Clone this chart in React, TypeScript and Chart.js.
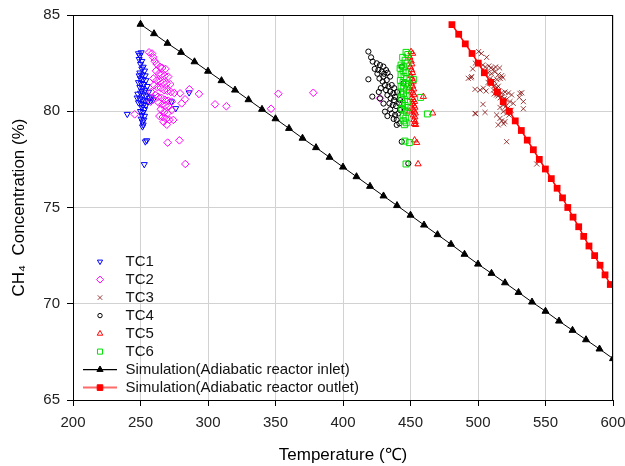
import React, { useEffect, useRef } from 'react';
import { Chart, registerables } from 'chart.js';

Chart.register(...registerables);

const FONT = '"Liberation Sans", Arial, Helvetica, sans-serif';

const xTickValues = [200, 250, 300, 350, 400, 450, 500, 550, 600];
const yTickValues = [65, 70, 75, 80, 85];

const xTitle = 'Temperature (℃)';
const yTitle = 'CH₄  Concentration (%)';

const seriesLabels = [
  'TC1',
  'TC2',
  'TC3',
  'TC4',
  'TC5',
  'TC6',
  'Simulation(Adiabatic reactor inlet)',
  'Simulation(Adiabatic reactor outlet)',
];

const inletTemps = [250, 260, 270, 280, 290, 300, 310, 320, 330, 340, 350, 360, 370, 380, 390, 400, 410, 420, 430, 440, 450, 460, 470, 480, 490, 500, 510, 520, 530, 540, 550, 560, 570, 580, 590, 600];
const inletConc = [84.52, 84.03, 83.53, 83.06, 82.57, 82.08, 81.59, 81.1, 80.6, 80.1, 79.61, 79.11, 78.6, 78.11, 77.61, 77.1, 76.6, 76.1, 75.6, 75.1, 74.6, 74.09, 73.59, 73.09, 72.57, 72.06, 71.58, 71.09, 70.59, 70.09, 69.61, 69.1, 68.62, 68.13, 67.65, 67.15];

const outletTemps = [480.7, 485.7, 490.6, 495.6, 500.2, 504.7, 509.4, 514.3, 518.7, 523.2, 527.6, 532.1, 536.5, 541.0, 545.4, 549.9, 554.3, 558.6, 562.6, 566.5, 570.4, 574.6, 578.3, 582.2, 586.4, 590.4, 594.1, 598.0];
const outletConc = [84.5, 84.0, 83.5, 83.0, 82.5, 82.0, 81.5, 81.0, 80.5, 80.0, 79.5, 79.0, 78.5, 78.0, 77.5, 77.0, 76.5, 76.0, 75.5, 75.0, 74.5, 74.0, 73.5, 73.0, 72.5, 72.0, 71.5, 71.0];

const tc1 = [
  [248.5, 83.0], [249.5, 82.9], [250.5, 83.05], [249.0, 82.7], [251.0, 82.6], [250.0, 82.45], [252.0, 82.3], [251.0, 82.2],
  [253.0, 82.1], [249.5, 82.0], [251.5, 81.9], [253.5, 81.85], [250.0, 81.7], [252.0, 81.65], [254.0, 81.6], [248.5, 81.5],
  [250.5, 81.45], [252.5, 81.4], [255.0, 81.3], [249.5, 81.25], [251.5, 81.2], [253.5, 81.1], [256.0, 81.0], [248.0, 80.9],
  [250.0, 80.95], [252.0, 80.85], [254.0, 80.8], [256.5, 80.7], [258.0, 80.75], [247.5, 80.7], [249.5, 80.65], [251.5, 80.6],
  [253.5, 80.55], [255.5, 80.5], [257.5, 80.55], [259.5, 80.6], [250.5, 80.4], [252.5, 80.35], [254.0, 80.3], [251.0, 80.2],
  [253.0, 80.1], [250.0, 80.0], [252.0, 79.95], [251.0, 79.8], [253.0, 79.75], [250.5, 79.6], [252.5, 79.55], [251.5, 79.45],
  [252.0, 79.3], [251.5, 79.2], [240.2, 79.85], [253.6, 78.42], [254.6, 78.48], [252.8, 77.24], [276.1, 80.15], [286.0, 80.97],
  [273.0, 80.5], [249.0, 81.85], [251.0, 81.05], [248.5, 80.45],
];

const tc2 = [
  [256.3, 83.06], [258.5, 83.0], [259.5, 82.8], [260.5, 82.6], [262.0, 82.45], [264.5, 82.3], [266.0, 82.25], [268.5, 82.2],
  [261.5, 82.1], [263.5, 81.95], [265.5, 81.9], [268.0, 81.85], [270.5, 81.8], [259.5, 81.7], [262.0, 81.6], [264.5, 81.55],
  [267.0, 81.5], [269.5, 81.45], [272.0, 81.4], [260.0, 81.35], [262.5, 81.25], [265.0, 81.2], [267.5, 81.1], [270.0, 81.05],
  [272.5, 81.0], [275.0, 80.95], [279.3, 80.93], [286.2, 81.14], [293.3, 80.9], [283.0, 80.62], [280.5, 80.41], [261.0, 80.85],
  [263.0, 80.75], [265.5, 80.7], [268.0, 80.6], [270.5, 80.55], [273.0, 80.5], [263.5, 80.45], [266.0, 80.35], [268.5, 80.3],
  [271.0, 80.25], [273.1, 80.06], [265.0, 80.1], [267.5, 79.95], [270.0, 79.9], [264.0, 79.75], [266.5, 79.7], [269.0, 79.6],
  [271.5, 79.55], [267.0, 79.45], [269.5, 79.3], [245.7, 79.84], [270.1, 78.37], [278.8, 78.49], [283.2, 77.26], [305.2, 80.36],
  [313.6, 80.26], [346.7, 80.13], [352.1, 80.91], [378.0, 80.96], [427.4, 80.67], [274.3, 79.55], [258.0, 81.0], [257.5, 80.5],
];

const tc3 = [
  [500.5, 83.1], [502.5, 83.0], [506.4, 82.8], [498.0, 82.5], [503.5, 82.4], [505.5, 82.3], [508.0, 82.35], [509.5, 82.25],
  [511.5, 82.2], [513.0, 82.3], [516.0, 82.25], [496.1, 82.2], [505.0, 82.1], [507.5, 82.0], [510.0, 81.95], [512.5, 82.05],
  [515.0, 81.9], [517.5, 81.85], [495.3, 81.8], [492.8, 81.71], [494.8, 81.74], [509.0, 81.7], [511.5, 81.6], [514.0, 81.65],
  [516.5, 81.7], [518.5, 81.75], [507.5, 81.5], [510.0, 81.4], [512.5, 81.35], [515.0, 81.3], [497.8, 81.14], [501.5, 81.1],
  [504.0, 81.2], [506.0, 81.05], [511.5, 81.1], [513.5, 81.0], [515.5, 81.05], [517.5, 80.95], [520.0, 81.0], [522.5, 80.95],
  [524.9, 80.85], [531.1, 80.93], [532.4, 80.96], [513.8, 80.85], [515.0, 80.8], [516.5, 80.7], [518.0, 80.75], [519.5, 80.65],
  [521.0, 80.6], [530.6, 80.72], [533.6, 80.5], [526.1, 80.41], [523.7, 80.5], [518.7, 80.32], [520.5, 80.25], [516.3, 80.2],
  [522.0, 80.15], [533.6, 80.13], [524.5, 80.05], [503.7, 80.36], [505.2, 79.94], [497.8, 79.89], [498.3, 79.87], [518.7, 79.98],
  [521.2, 79.9], [523.0, 79.8], [513.8, 79.81], [516.3, 79.63], [520.0, 79.46], [515.0, 79.29], [517.5, 79.5], [519.0, 79.35],
  [521.2, 78.42], [543.5, 77.26], [514.0, 81.2], [512.0, 80.9],
];

const tc4 = [
  [418.8, 83.1], [420.8, 82.8], [422.0, 82.58], [425.0, 82.49], [427.4, 82.4], [429.9, 82.32], [426.2, 82.14], [428.7, 82.06],
  [431.9, 82.14], [434.9, 81.8], [429.9, 81.8], [432.4, 81.62], [429.4, 81.54], [431.1, 81.36], [433.6, 81.28], [436.1, 81.36],
  [431.9, 81.1], [434.9, 81.02], [437.3, 80.93], [432.9, 80.84], [435.3, 80.67], [437.8, 80.58], [434.4, 80.41], [436.8, 80.32],
  [439.3, 80.27], [431.1, 79.98], [432.9, 79.75], [436.1, 79.89], [438.6, 79.81], [441.0, 79.89], [439.8, 79.55], [441.8, 79.37],
  [439.8, 79.29], [418.8, 81.66], [421.7, 80.76], [427.4, 80.67], [443.5, 78.42], [448.4, 77.29], [442.3, 80.06], [442.3, 80.58],
  [444.7, 81.45], [443.5, 82.32], [425.5, 81.95], [427.0, 81.7], [430.5, 81.95], [433.0, 82.0], [438.0, 81.2], [440.0, 81.0],
  [435.0, 80.1], [437.5, 79.6], [430.0, 80.4], [428.0, 81.2], [426.5, 81.0], [423.5, 82.2], [441.5, 80.4], [438.5, 80.75],
];

const tc5 = [
  [450.4, 83.09], [451.6, 83.0], [449.5, 82.8], [450.5, 82.6], [451.0, 82.45], [449.8, 82.3], [450.8, 82.15], [451.5, 82.0],
  [450.2, 81.85], [451.2, 81.7], [452.0, 81.55], [450.6, 81.45], [451.5, 81.3], [452.3, 81.15], [450.8, 81.05], [451.8, 80.95],
  [452.6, 80.85], [451.0, 80.7], [452.0, 80.6], [453.0, 80.5], [451.5, 80.4], [452.5, 80.3], [453.3, 80.2], [451.8, 80.1],
  [452.8, 80.0], [453.6, 79.9], [452.2, 79.8], [453.2, 79.7], [452.5, 79.55], [453.5, 79.45], [452.8, 79.35], [453.8, 79.3],
  [459.5, 80.76], [466.4, 79.9], [454.6, 78.37], [455.6, 77.26], [453.0, 78.5], [449.0, 81.2], [449.2, 80.0],
];

const tc6 = [
  [446.7, 83.06], [448.0, 82.95], [444.2, 82.8], [446.0, 82.65], [447.5, 82.5], [443.0, 82.4], [445.0, 82.3], [442.3, 82.23],
  [444.5, 82.1], [446.5, 82.0], [443.0, 81.9], [445.2, 81.8], [447.0, 81.7], [442.5, 81.6], [444.5, 81.5], [446.5, 81.45],
  [443.0, 81.3], [445.0, 81.2], [447.0, 81.1], [442.8, 81.0], [444.8, 80.9], [446.8, 80.8], [443.5, 80.7], [445.5, 80.6],
  [447.5, 80.5], [444.0, 80.4], [446.0, 80.3], [443.5, 80.15], [445.5, 80.05], [447.0, 79.95], [444.5, 79.8], [446.5, 79.65],
  [445.0, 79.5], [446.8, 79.4], [445.5, 79.3], [452.1, 81.66], [457.5, 80.72], [462.5, 79.86], [445.9, 78.45], [449.1, 78.37],
  [446.7, 77.26], [448.0, 81.3], [448.5, 80.2],
];

const COLORS = {
  tc1: '#0000ff',
  tc2: '#ff00ff',
  tc3: 'rgba(128,0,0,0.75)',
  tc4: '#000000',
  tc5: '#ff0000',
  tc6: '#00e000',
  inlet: '#000000',
  outlet: '#ff0000',
};

type Kind = 'triDown' | 'triUp' | 'diamond' | 'cross' | 'circle' | 'square';

function drawMarker(ctx: CanvasRenderingContext2D, kind: Kind, x: number, y: number, r: number, color: string, filled: boolean) {
  ctx.save();
  ctx.beginPath();
  ctx.lineWidth = 1;
  ctx.strokeStyle = color;
  ctx.fillStyle = color;
  if (kind === 'triDown') {
    ctx.moveTo(x, y + r);
    ctx.lineTo(x - r * 0.866, y - r / 2);
    ctx.lineTo(x + r * 0.866, y - r / 2);
    ctx.closePath();
  } else if (kind === 'triUp') {
    ctx.moveTo(x, y - r);
    ctx.lineTo(x - r * 0.866, y + r / 2);
    ctx.lineTo(x + r * 0.866, y + r / 2);
    ctx.closePath();
  } else if (kind === 'diamond') {
    ctx.moveTo(x, y - r);
    ctx.lineTo(x + r, y);
    ctx.lineTo(x, y + r);
    ctx.lineTo(x - r, y);
    ctx.closePath();
  } else if (kind === 'cross') {
    const h = r * 0.707;
    ctx.moveTo(x - h, y - h);
    ctx.lineTo(x + h, y + h);
    ctx.moveTo(x + h, y - h);
    ctx.lineTo(x - h, y + h);
  } else if (kind === 'circle') {
    ctx.arc(x, y, r, 0, Math.PI * 2);
  } else if (kind === 'square') {
    const h = r * 0.707;
    ctx.rect(x - h, y - h, 2 * h, 2 * h);
  }
  if (filled) ctx.fill();
  ctx.stroke();
  ctx.restore();
}

const legendMeta: { kind: Kind; color: string; r: number; filled: boolean; line?: string }[] = [
  { kind: 'triDown', color: COLORS.tc1, r: 3, filled: false },
  { kind: 'diamond', color: COLORS.tc2, r: 3.5, filled: false },
  { kind: 'cross', color: COLORS.tc3, r: 3.2, filled: false },
  { kind: 'circle', color: COLORS.tc4, r: 2.2, filled: false },
  { kind: 'triUp', color: COLORS.tc5, r: 3.2, filled: false },
  { kind: 'square', color: COLORS.tc6, r: 3.6, filled: false },
  { kind: 'triUp', color: COLORS.inlet, r: 3.6, filled: true, line: '#000000' },
  { kind: 'square', color: COLORS.outlet, r: 4, filled: true, line: '#ff6a6a' },
];

const legendPlugin = {
  id: 'customLegend',
  afterDraw(chart: any) {
    const ctx: CanvasRenderingContext2D = chart.ctx;
    const markerX = 100;
    const textX = 125.5;
    const y0 = 261.6;
    const step = 18;
    ctx.save();
    ctx.font = `15px ${FONT}`;
    ctx.textBaseline = 'middle';
    ctx.textAlign = 'left';
    seriesLabels.forEach((label, i) => {
      const m = legendMeta[i];
      const y = y0 + i * step;
      if (m.line) {
        ctx.beginPath();
        ctx.strokeStyle = m.line;
        ctx.lineWidth = m.line === '#000000' ? 1.2 : 2;
        ctx.moveTo(83, y);
        ctx.lineTo(117, y);
        ctx.stroke();
      }
      drawMarker(ctx, m.kind, markerX, y, m.r, m.color, m.filled);
      ctx.fillStyle = '#111111';
      ctx.fillText(label, textX, y);
    });
    ctx.restore();
  },
};

const boxPlugin = {
  id: 'plotBox',
  afterDatasetsDraw(chart: any) {
    const { ctx, chartArea } = chart;
    ctx.save();
    ctx.strokeStyle = '#000000';
    ctx.lineWidth = 1;
    ctx.strokeRect(Math.round(chartArea.left) + 0.5, Math.round(chartArea.top) + 0.5, Math.round(chartArea.right - chartArea.left) - 1, Math.round(chartArea.bottom - chartArea.top));
    ctx.restore();
  },
};

const toPts = (arr: number[][]) => arr.map(([x, y]) => ({ x, y }));

function scatterSet(label: string, data: number[][], style: string, color: string, radius: number, order: number, rotation = 0) {
  return {
    label,
    data: toPts(data),
    pointStyle: style,
    pointRotation: rotation,
    pointRadius: radius,
    pointHoverRadius: radius,
    pointBorderColor: color,
    pointBackgroundColor: 'rgba(0,0,0,0)',
    pointBorderWidth: 1,
    showLine: false,
    order,
  };
}

export default function App() {
  const ref = useRef<HTMLCanvasElement | null>(null);

  useEffect(() => {
    document.documentElement.style.margin = '0';
    document.body.style.margin = '0';
    document.body.style.overflow = 'hidden';
    const canvas = ref.current;
    if (!canvas) return;

    const tickFont = { family: FONT, size: 15 };

    const chart = new Chart(canvas, {
      type: 'scatter',
      data: {
        datasets: [
          {
            label: seriesLabels[6],
            data: inletTemps.map((t, i) => ({ x: t, y: inletConc[i] })),
            showLine: true,
            borderColor: COLORS.inlet,
            borderWidth: 1,
            pointStyle: 'triangle',
            pointRadius: 4,
            pointBackgroundColor: COLORS.inlet,
            pointBorderColor: COLORS.inlet,
            pointBorderWidth: 1,
            order: 1,
          },
          {
            label: seriesLabels[7],
            data: outletTemps.map((t, i) => ({ x: t, y: outletConc[i] })),
            showLine: true,
            borderColor: COLORS.outlet,
            borderWidth: 1.5,
            pointStyle: 'rect',
            pointRadius: 4.8,
            pointBackgroundColor: COLORS.outlet,
            pointBorderColor: COLORS.outlet,
            pointBorderWidth: 0,
            order: 0,
          },
          scatterSet(seriesLabels[0], tc1, 'triangle', COLORS.tc1, 3.5, 7, 180),
          scatterSet(seriesLabels[1], tc2, 'rectRot', COLORS.tc2, 3.8, 6),
          scatterSet(seriesLabels[2], tc3, 'crossRot', COLORS.tc3, 3.6, 5),
          scatterSet(seriesLabels[3], tc4, 'circle', COLORS.tc4, 2.6, 4),
          scatterSet(seriesLabels[4], tc5, 'triangle', COLORS.tc5, 3.6, 3),
          scatterSet(seriesLabels[5], tc6, 'rect', COLORS.tc6, 4.2, 2),
        ] as any,
      },
      options: {
        animation: false,
        responsive: false,
        devicePixelRatio: 1,
        layout: { padding: { top: 15, right: 12, left: 0, bottom: 0 } },
        plugins: {
          legend: { display: false },
          tooltip: { enabled: false },
        },
        scales: {
          x: {
            type: 'linear',
            min: 200,
            max: 600,
            afterBuildTicks: (s: any) => {
              s.ticks = xTickValues.map((v) => ({ value: v }));
            },
            afterFit: (s: any) => {
              s.height = 66;
              s.paddingLeft = 0;
              s.paddingRight = 0;
            },
            ticks: { color: '#222222', font: tickFont, padding: 8, maxRotation: 0 },
            grid: { color: '#d2d2d2', lineWidth: 1, tickColor: '#000000', tickLength: 6 },
            border: { display: true, color: '#000000', width: 1 },
            title: {
              display: true,
              text: xTitle,
              color: '#000000',
              font: { family: FONT, size: 17 },
              padding: { top: 0, bottom: 0 },
            },
          },
          y: {
            type: 'linear',
            min: 65,
            max: 85,
            afterBuildTicks: (s: any) => {
              s.ticks = yTickValues.map((v) => ({ value: v }));
            },
            afterFit: (s: any) => {
              s.width = 73;
              s.paddingTop = 0;
              s.paddingBottom = 0;
            },
            ticks: { color: '#222222', font: tickFont, padding: 7 },
            grid: { color: '#d2d2d2', lineWidth: 1, tickColor: '#000000', tickLength: 6 },
            border: { display: true, color: '#000000', width: 1 },
            title: {
              display: true,
              text: yTitle,
              color: '#000000',
              font: { family: FONT, size: 17 },
              padding: { top: 9, bottom: 0 },
            },
          },
        },
      } as any,
      plugins: [boxPlugin, legendPlugin],
    });

    return () => chart.destroy();
  }, []);

  return <canvas ref={ref} width={625} height={466} style={{ display: 'block', width: 625, height: 466 }} />;
}
